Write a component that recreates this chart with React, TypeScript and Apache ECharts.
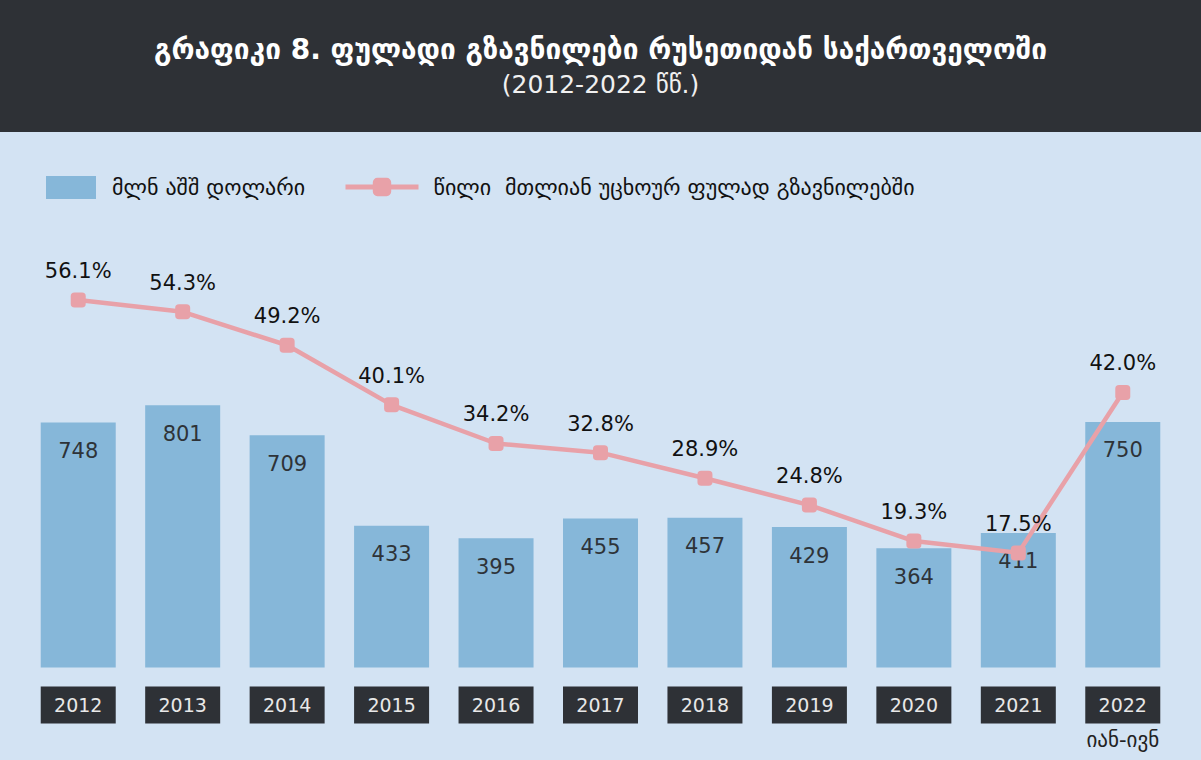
import React, { useEffect, useRef } from "react";
import * as echarts from "echarts";

const years = ["2012", "2013", "2014", "2015", "2016", "2017", "2018", "2019", "2020", "2021", "2022"];
const remittances = [748, 801, 709, 433, 395, 455, 457, 429, 364, 411, 750];
const sharePct = [56.1, 54.3, 49.2, 40.1, 34.2, 32.8, 28.9, 24.8, 19.3, 17.5, 42.0];
const lastYearNote = "იან-ივნ";
const barName = "მლნ აშშ დოლარი";
const lineName = "წილი  მთლიან უცხოურ ფულად გზავნილებში";
const titleText = "გრაფიკი 8. ფულადი გზავნილები რუსეთიდან საქართველოში";
const subtitleText = "(2012-2022 წწ.)";

const GEO = "'DejaVu Sans', 'Noto Sans', sans-serif";
const NUM = "'DejaVu Sans', Roboto, sans-serif";

export default function App() {
  const ref = useRef<HTMLDivElement>(null);
  useEffect(() => {
    if (!ref.current) return;
    const chart = echarts.init(ref.current, null, { renderer: "svg" });
    const option: any = {
      animation: false,
      backgroundColor: "#d3e3f3",
      graphic: [
        {
          type: "rect",
          left: 0,
          top: 0,
          z: -10,
          shape: { x: 0, y: 0, width: 1201, height: 132 },
          style: { fill: "#2e3136" },
        },
      ],
      title: {
        text: titleText,
        subtext: subtitleText,
        left: "center",
        top: 26,
        itemGap: 2,
        textStyle: { color: "#ffffff", fontSize: 28, fontWeight: "bold", fontFamily: GEO, lineHeight: 36 },
        subtextStyle: { color: "#f0f0f0", fontSize: 25, fontFamily: GEO, lineHeight: 30 },
      },
      legend: [
        {
          data: [{ name: barName, icon: "rect" }],
          left: 41,
          top: 171,
          itemWidth: 50,
          itemHeight: 23,
          textStyle: { fontSize: 22, color: "#111", fontFamily: GEO, padding: [0, 0, 0, 11] },
        },
        {
          data: [lineName],
          left: 338,
          top: 171,
          itemWidth: 73,
          itemHeight: 23,
          lineStyle: { width: 5 },
          textStyle: { fontSize: 22, color: "#111", fontFamily: GEO, padding: [0, 0, 0, 10] },
        },
      ],
      grid: { left: 26, right: 26, top: 274.5, bottom: 92.5, containLabel: false },
      xAxis: {
        type: "category",
        data: years,
        axisLine: { show: false },
        axisTick: { show: false },
        axisLabel: {
          margin: 19,
          interval: 0,
          formatter: (v: string, i: number) =>
            i === years.length - 1 ? `{b|${v}}\n{s|${lastYearNote}}` : `{b|${v}}`,
          rich: {
            b: {
              backgroundColor: "#2e3136",
              color: "#e8e8e8",
              width: 75,
              height: 37,
              lineHeight: 37,
              align: "center",
              fontSize: 19,
              fontFamily: NUM,
            },
            s: { color: "#222", fontSize: 21, lineHeight: 32, fontFamily: GEO, align: "center" },
          },
        },
      },
      yAxis: [
        { type: "value", min: 0, max: 1200, show: false, splitLine: { show: false } },
        { type: "value", min: 0, max: 60, show: false, splitLine: { show: false } },
      ],
      series: [
        {
          name: barName,
          type: "bar",
          data: remittances,
          barWidth: 75,
          itemStyle: { color: "#86b7d9" },
          label: {
            show: true,
            position: "insideTop",
            distance: 18,
            color: "#2e3338",
            fontSize: 21,
            fontFamily: NUM,
          },
        },
        {
          name: lineName,
          type: "line",
          yAxisIndex: 1,
          data: sharePct,
          z: 5,
          symbol: "roundRect",
          symbolSize: 15,
          lineStyle: { color: "#e8a1a8", width: 4.5 },
          itemStyle: { color: "#e8a1a8" },
          label: {
            show: true,
            position: "top",
            distance: 11,
            color: "#111",
            fontSize: 21,
            fontFamily: NUM,
            formatter: (p: any) => `${Number(p.value).toFixed(1)}%`,
          },
        },
      ],
    };
    chart.setOption(option);
    return () => chart.dispose();
  }, []);
  return (
    <div
      ref={ref}
      style={{ position: "fixed", left: 0, top: 0, width: 1201, height: 760 }}
    />
  );
}
